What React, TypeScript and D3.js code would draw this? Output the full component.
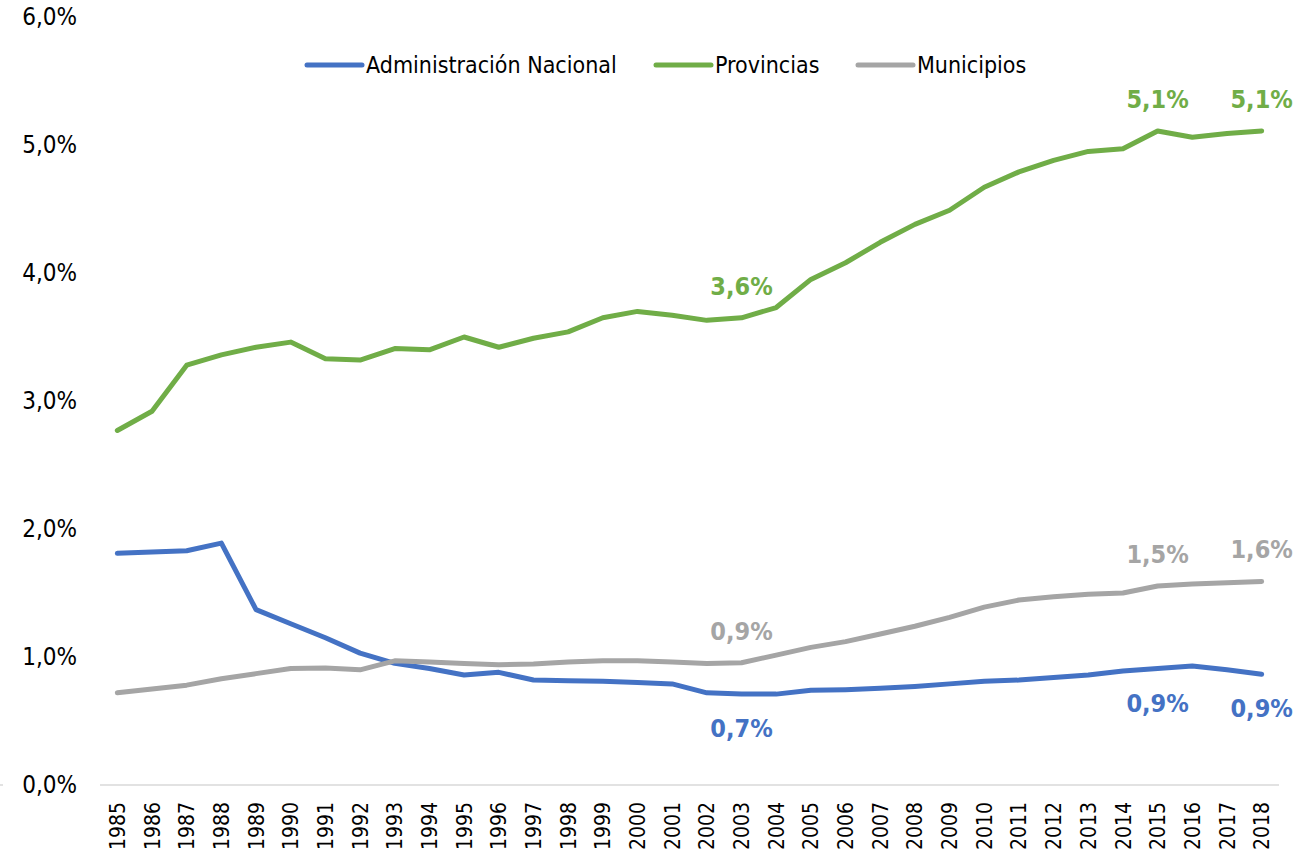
import * as d3 from "d3";
import {useEffect, useRef} from "react";

const years = d3.range(1985, 2019).map(String);

const nacional = [
  1.81, 1.82, 1.83, 1.89, 1.37, 1.26, 1.15, 1.03, 0.95, 0.91,
  0.86, 0.88, 0.82, 0.815, 0.81, 0.80, 0.79, 0.72, 0.71, 0.71,
  0.74, 0.745, 0.755, 0.77, 0.79, 0.81, 0.82, 0.84, 0.86, 0.89,
  0.91, 0.93, 0.90, 0.865
];

const provincias = [
  2.77, 2.92, 3.28, 3.36, 3.42, 3.46, 3.33, 3.32, 3.41, 3.40,
  3.50, 3.42, 3.49, 3.54, 3.65, 3.70, 3.67, 3.63, 3.65, 3.73,
  3.95, 4.08, 4.24, 4.38, 4.49, 4.67, 4.79, 4.88, 4.95, 4.97,
  5.11, 5.06, 5.09, 5.11
];

const municipios = [
  0.72, 0.75, 0.78, 0.83, 0.87, 0.91, 0.915, 0.90, 0.97, 0.96,
  0.95, 0.94, 0.945, 0.96, 0.97, 0.97, 0.96, 0.95, 0.955, 1.015,
  1.075, 1.12, 1.18, 1.24, 1.31, 1.39, 1.445, 1.47, 1.49, 1.50,
  1.555, 1.57, 1.58, 1.59
];

const yTicks = [0, 1, 2, 3, 4, 5, 6];

const series = [
  {name: "Administración Nacional", values: nacional, color: "#4472C4"},
  {name: "Provincias", values: provincias, color: "#70AD47"},
  {name: "Municipios", values: municipios, color: "#A5A5A5"}
];

// labels: series index, year, text, placed above or below the line
const labelSeries = [1, 1, 1, 2, 2, 2, 0, 0, 0];
const labelYears = ["2003", "2015", "2018", "2003", "2015", "2018", "2003", "2015", "2018"];
const labelTexts = ["3,6%", "5,1%", "5,1%", "0,9%", "1,5%", "1,6%", "0,7%", "0,9%", "0,9%"];
const labelAbove = [true, true, true, true, true, true, false, false, false];

const legendX = [307, 656, 858];

function App() {
  const ref = useRef<SVGSVGElement>(null);

  useEffect(() => {
    document.body.style.margin = "0";
    const width = 1296;
    const height = 858;
    const font = "'DejaVu Sans Condensed', 'DejaVu Sans', sans-serif";

    const svg = d3.select(ref.current);
    svg.selectAll("*").remove();

    const x = d3.scalePoint<string>()
      .domain(years)
      .range([100, 1279])
      .padding(0.5);

    const y = d3.scaleLinear()
      .domain([0, 6])
      .range([785, 17]);

    const fmt = (v: number) => d3.format(".1f")(v).replace(".", ",") + "%";

    // y axis labels (no axis line, no gridlines)
    svg.append("g")
      .selectAll("text")
      .data(yTicks)
      .enter()
      .append("text")
        .attr("x", 77)
        .attr("y", d => y(d))
        .attr("dy", "0.35em")
        .attr("text-anchor", "end")
        .style("font-family", font)
        .style("font-size", "24px")
        .style("fill", "#000")
        .text(d => fmt(d));

    // baseline
    svg.append("line")
      .attr("x1", 100)
      .attr("x2", 1279)
      .attr("y1", y(0))
      .attr("y2", y(0))
      .attr("stroke", "#d9d9d9")
      .attr("stroke-width", 1.5);

    svg.append("line")
      .attr("x1", 0)
      .attr("x2", 3)
      .attr("y1", y(0))
      .attr("y2", y(0))
      .attr("stroke", "#d9d9d9")
      .attr("stroke-width", 1.5);

    // x axis year labels, rotated
    svg.append("g")
      .selectAll("text")
      .data(years)
      .enter()
      .append("text")
        .attr("transform", d => "translate(" + x(d) + ",802)rotate(-90)")
        .attr("text-anchor", "end")
        .attr("dy", "0.36em")
        .style("font-family", font)
        .style("font-size", "21px")
        .style("fill", "#000")
        .text(d => d);

    const line = d3.line<number>()
      .x((d, i) => x(years[i]) as number)
      .y(d => y(d));

    series.forEach(s => {
      svg.append("path")
        .datum(s.values)
        .attr("d", line)
        .attr("fill", "none")
        .attr("stroke", s.color)
        .attr("stroke-width", 5)
        .attr("stroke-linejoin", "round")
        .attr("stroke-linecap", "round");
    });

    // data labels
    labelTexts.forEach((t, i) => {
      const s = series[labelSeries[i]];
      const idx = years.indexOf(labelYears[i]);
      svg.append("text")
        .attr("x", x(labelYears[i]) as number)
        .attr("y", y(s.values[idx]) + (labelAbove[i] ? -23 : 43))
        .attr("text-anchor", "middle")
        .style("font-family", font)
        .style("font-size", "25px")
        .style("font-weight", "bold")
        .style("fill", s.color)
        .text(t);
    });

    // legend
    series.forEach((s, i) => {
      const g = svg.append("g").attr("transform", "translate(" + legendX[i] + ",65)");
      g.append("line")
        .attr("x1", 0)
        .attr("x2", 55)
        .attr("stroke", s.color)
        .attr("stroke-width", 5)
        .attr("stroke-linecap", "round");
      g.append("text")
        .attr("x", 59)
        .attr("dy", "0.35em")
        .style("font-family", font)
        .style("font-size", "23px")
        .style("fill", "#000")
        .text(s.name);
    });
  }, []);

  return (
    <svg ref={ref} width={1296} height={858} style={{display: "block", background: "#fff"}} />
  );
}

export default App;
